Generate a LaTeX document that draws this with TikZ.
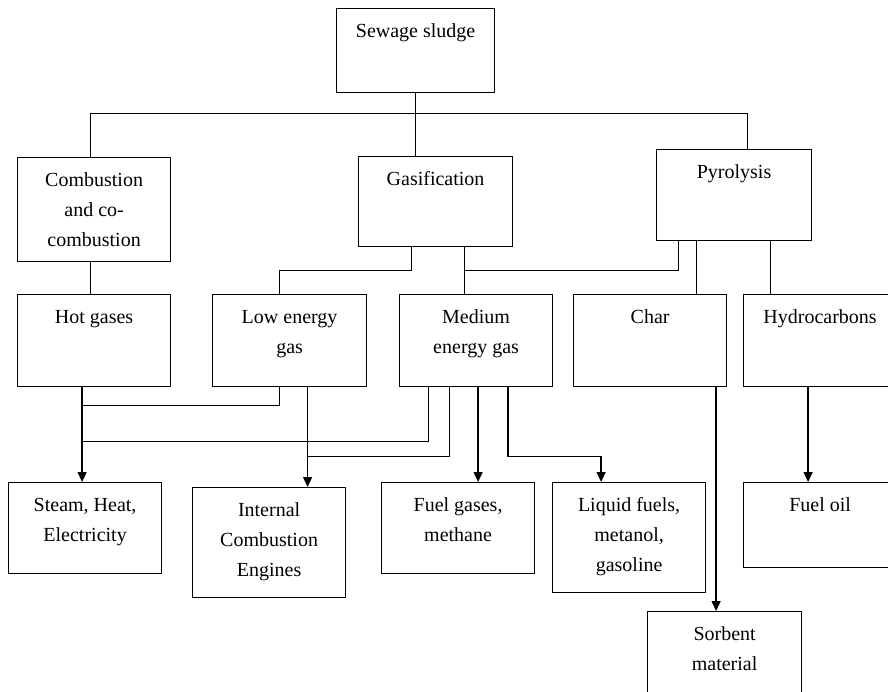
\documentclass[tikz,border=0pt]{standalone}
\usepackage{fontspec}
\setmainfont{Liberation Serif}
\usepackage{tikz}
\usetikzlibrary{arrows.meta}

\newcommand{\toptxt}[3]{\parbox[c][#2pt][t]{#1pt}{\centering\rule{0pt}{29pt}#3}}

\begin{document}
\begin{tikzpicture}[x=1pt,y=-1pt,
	box/.style={draw, line width=1.2pt, inner sep=0pt, anchor=north west, font=\fontsize{20}{30}\selectfont},
	link/.style={line width=1pt},
	arr/.style={line width=1.4pt, -{Triangle[width=9pt,length=10pt]}}]
	\clip (0,0) rectangle (888,691);
	% top level
	\node[box] (sludge) at (336,8) {\toptxt{158}{84}{Sewage sludge}};
	\node[box] (comb) at (17,157) {\toptxt{153}{104}{Combustion\\and co-\\combustion}};
	\node[box] (gasi) at (358,156) {\toptxt{154}{90}{Gasification}};
	\node[box] (pyro) at (656,149) {\toptxt{155}{91}{Pyrolysis}};
	% products
	\node[box] (hot) at (17,294) {\toptxt{153}{92}{Hot gases}};
	\node[box] (low) at (212,294) {\toptxt{154}{92}{Low energy\\gas}};
	\node[box] (med) at (399,294) {\toptxt{153}{92}{Medium\\energy gas}};
	\node[box] (char) at (573,294) {\toptxt{153}{92}{Char}};
	\node[box] (hydro) at (743,294) {\toptxt{153}{92}{Hydrocarbons}};
	% uses
	\node[box] (steam) at (8,482) {\toptxt{153}{91}{Steam, Heat,\\Electricity}};
	\node[box] (ice) at (192,487) {\toptxt{153}{110}{Internal\\Combustion\\Engines}};
	\node[box] (fuel) at (381,482) {\toptxt{153}{91}{Fuel gases,\\methane}};
	\node[box] (liq) at (552,482) {\toptxt{153}{110}{Liquid fuels,\\metanol,\\gasoline}};
	\node[box] (oil) at (743,482) {\toptxt{153}{85}{Fuel oil}};
	\node[box] (sorb) at (647,611) {\toptxt{154}{92}{Sorbent\\material}};

	\draw[link] (sludge.south) -- (sludge.south |- gasi.north);
	\draw[link] ([xshift=-4pt]comb.north) -- ++(0,-44) -| ([xshift=13pt]pyro.north);
	\draw[link] ([xshift=-4pt]comb.south) -- ([xshift=-4pt]comb.south |- hot.north);
	\draw[link] ([xshift=-24pt]gasi.south) -- ++(0,23) -| ([xshift=-10pt]low.north);
	\draw[link] ([xshift=29pt]gasi.south) -- ([xshift=29pt]gasi.south |- med.north);
	\draw[link] ([xshift=-56pt]pyro.south) -- ++(0,29) -| ([xshift=29pt]gasi.south |- med.north);
	\draw[link] ([xshift=-38pt]pyro.south) -- ([xshift=-38pt]pyro.south |- char.north);
	\draw[link] ([xshift=36pt]pyro.south) -- ([xshift=36pt]pyro.south |- hydro.north);

	\draw[arr] ([xshift=-12pt]hot.south) -- ([xshift=-12pt]hot.south |- steam.north);
	\draw[link] ([xshift=-10pt]low.south) -- ++(0,18) -| ([xshift=-12pt]hot.south);
	\draw[link] ([xshift=-48pt]med.south) -- ++(0,54) -| ([xshift=-12pt]hot.south);
	\draw[arr] ([xshift=18pt]low.south) -- ([xshift=18pt]low.south |- ice.north);
	\draw[link] ([xshift=-27pt]med.south) -- ++(0,69) -| ([xshift=18pt]low.south);
	\draw[arr] ([xshift=2pt]med.south) -- ([xshift=2pt]med.south |- fuel.north);
	\draw[arr] ([xshift=32pt]med.south) -- ++(0,69) -| ([xshift=-28pt]liq.north);
	\draw[arr] ([xshift=66pt]char.south) -- ([xshift=66pt]char.south |- sorb.north);
	\draw[arr] ([xshift=-12pt]hydro.south) -- ([xshift=-12pt]hydro.south |- oil.north);
\end{tikzpicture}
\end{document}
